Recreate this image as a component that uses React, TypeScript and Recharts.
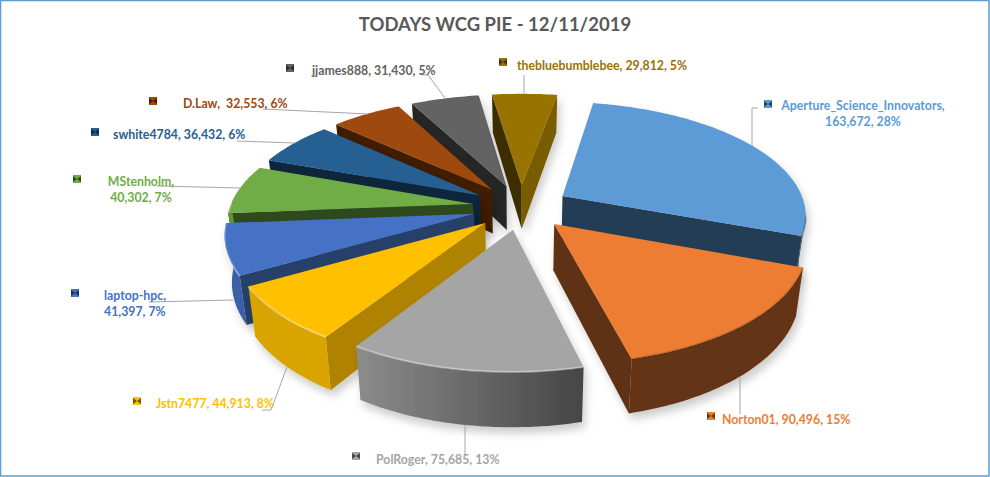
import React from "react";
import { Pie, PieChart } from "recharts";

const names = [
  "Aperture_Science_Innovators",
  "Norton01",
  "PolRoger",
  "Jstn7477",
  "laptop-hpc",
  "MStenholm",
  "swhite4784",
  "D.Law",
  "jjames888",
  "thebluebumblebee",
];
const values = [163672, 90496, 75685, 44913, 41397, 40302, 36432, 32553, 31430, 29812];
const colors = ["#5b9bd5", "#ed7d31", "#a5a5a5", "#ffc000", "#4472c4", "#70ad47", "#255e91", "#9e480e", "#636363", "#997300"];

// back to front, the library paints a pie in data order so each slice gets its own Pie
const paintOrder = [8, 7, 6, 5, 4, 9, 0, 1, 3, 2];

// text, key square and leader line of each slice, same order as names
const labelLayout = [
  { lines: ["Aperture_Science_Innovators,", "163,672, 28%"], x: 863, y: 110, anchor: "middle", key: [764, 100], leader: "758,108 752,108 752,146" },
  { lines: ["Norton01, 90,496, 15%"], x: 722, y: 424, anchor: "start", key: [707, 412], leader: "740,377 740,414" },
  { lines: ["PolRoger, 75,685, 13%"], x: 376, y: 464, anchor: "start", key: [352, 452], leader: "465,425 465,455" },
  { lines: ["Jstn7477, 44,913, 8%"], x: 156, y: 408, anchor: "start", key: [133, 397], leader: "287,367 271,410 262,410" },
  { lines: ["laptop-hpc,", "41,397, 7%"], x: 104, y: 300, anchor: "start", key: [71, 289], leader: "233,300 149,302" },
  { lines: ["MStenholm,", "40,302, 7%"], x: 141, y: 186, anchor: "middle", key: [73, 175], leader: "240,188 157,186" },
  { lines: ["swhite4784, 36,432, 6%"], x: 113, y: 139, anchor: "start", key: [91, 128], leader: "295,143 237,141" },
  { lines: ["D.Law,  32,553, 6%"], x: 183, y: 108, anchor: "start", key: [149, 97], leader: "368,114 263,109" },
  { lines: ["jjames888, 31,430, 5%"], x: 312, y: 75, anchor: "start", key: [286, 64], leader: "445,98 428,75 423,75" },
  { lines: ["thebluebumblebee, 29,812, 5%"], x: 517, y: 70, anchor: "start", key: [499, 58], leader: "524,93 524,75" },
];

const rows = names.map((name, i) => ({ name, value: values[i] }));

const FONT = "Lato, 'Open Sans', sans-serif";
const FIRST_SLICE = 10;
const CX = 521;
const CY = 207;
const RADIUS = 243;
const FLATTEN = 112 / 243; // ground plane squash
const PERSPECTIVE = 0.156;
const EXPLODE = 0.2;
const DEPTH = 45;
const TAPER = 0.025; // walls lean inward going down

const rad = (d: number) => (d * Math.PI) / 180;

function darken(hex: string, f: number) {
  const n = parseInt(hex.slice(1), 16);
  const c = [(n >> 16) & 255, (n >> 8) & 255, n & 255].map((v) => Math.round(v * f));
  return `rgb(${c[0]},${c[1]},${c[2]})`;
}

const norm = (a: number) => ((a % 360) + 360) % 360;

// clock angle of a cut's normal -> shade, faces turned to the right catch more light
function cutShade(normal: number) {
  const t = Math.min(1, Math.max(0, (180 - norm(normal)) / 81));
  return 0.4 + 0.4 * t;
}

const facesViewer = (normal: number) => norm(normal) > 90 && norm(normal) < 270;

function rimShade(theta: number) {
  if (theta >= 212) return 0.85;
  if (theta <= 166) return 0.42;
  return 0.42 + ((theta - 166) / 46) * 0.43;
}

function Wedge(props: any) {
  const { cx, cy, outerRadius, startAngle, endAngle, name } = props;
  const i = names.indexOf(name);
  const color = colors[i];
  const a0 = 90 - startAngle;
  const a1 = 90 - endAngle;
  const mid = (a0 + a1) / 2;
  const ex = Math.sin(rad(mid)) * EXPLODE;
  const ey = -Math.cos(rad(mid)) * EXPLODE;

  const project = (u: number, v: number, h: number) => {
    const s = 1 / (1 - PERSPECTIVE * v);
    return [cx + outerRadius * u * s * (1 - TAPER * h), cy + (outerRadius * FLATTEN * v + DEPTH * h) * s];
  };
  const rimPoint = (a: number, h: number) => project(Math.sin(rad(a)) + ex, -Math.cos(rad(a)) + ey, h);
  const apex = (h: number) => project(ex, ey, h);
  const path = (pts: number[][]) => pts.map((p) => `${p[0].toFixed(1)},${p[1].toFixed(1)}`).join(" ");
  const arc = (from: number, to: number, h: number) => {
    const pts = [];
    const steps = Math.max(2, Math.ceil(Math.abs(to - from)));
    for (let k = 0; k <= steps; k++) pts.push(rimPoint(from + ((to - from) * k) / steps, h));
    return pts;
  };

  const top = [apex(0), ...arc(a0, a1, 0)];
  const startCut = [apex(0), rimPoint(a0, 0), rimPoint(a0, 1), apex(1)];
  const endCut = [apex(0), rimPoint(a1, 0), rimPoint(a1, 1), apex(1)];

  // only the near part of the outer wall can be seen
  const from = Math.max(a0, 100);
  const to = Math.min(a1, 270);
  const hasRim = to > from;
  const gradId = `rim-${i}`;

  return (
    <g filter="url(#sliceShadow)">
      {facesViewer(a0 - 90) && <polygon points={path(startCut)} fill={darken(color, cutShade(a0 - 90))} />}
      {facesViewer(a1 + 90) && <polygon points={path(endCut)} fill={darken(color, cutShade(a1 + 90))} />}
      {hasRim && (
        <>
          <defs>
            <linearGradient id={gradId} x1="0" y1="0" x2="1" y2="0">
              <stop offset="0" stopColor={darken(color, rimShade(to))} />
              <stop offset="1" stopColor={darken(color, rimShade(from))} />
            </linearGradient>
          </defs>
          <polygon points={path([...arc(from, to, 0), ...arc(to, from, 1)])} fill={`url(#${gradId})`} />
        </>
      )}
      <polygon points={path(top)} fill={color} />
      {hasRim && (
        <polyline
          points={path(arc(from, to, 0))}
          fill="none"
          stroke={rimShade((from + to) / 2) > 0.5 ? "#ffffff" : "#000000"}
          strokeOpacity={rimShade((from + to) / 2) > 0.5 ? 0.35 : 0.18}
          strokeWidth={2}
        />
      )}
    </g>
  );
}

function SliceLabel(props: any) {
  const i = names.indexOf(props.name);
  const l = labelLayout[i];
  const color = colors[i];
  const [kx, ky] = l.key;
  return (
    <g>
      <polyline points={l.leader} fill="none" stroke="#a6a6a6" strokeWidth={1} />
      <rect x={kx} y={ky} width={8} height={8} fill={color} />
      <polygon
        points={`${kx},${ky + 1} ${kx + 4},${ky + 4} ${kx + 8},${ky + 1} ${kx + 8},${ky + 7} ${kx + 4},${ky + 4} ${kx},${ky + 7}`}
        fill={darken(color, 0.45)}
      />
      <text x={l.x} y={l.y} textAnchor={l.anchor as any} fill={color} fontFamily={FONT} fontSize={12.3} fontWeight={700} xmlSpace="preserve">
        {l.lines.map((line, k) => (
          <tspan key={k} x={l.x} y={l.y + k * 16}>
            {line}
          </tspan>
        ))}
      </text>
    </g>
  );
}

export default function App() {
  const start = 90 - FIRST_SLICE;
  const common = {
    data: rows,
    dataKey: "value",
    nameKey: "name",
    cx: CX,
    cy: CY,
    outerRadius: RADIUS,
    startAngle: start,
    endAngle: start - 360,
    stroke: "none",
    isAnimationActive: false,
    legendType: "none" as const,
  };
  return (
    <div style={{ position: "fixed", left: 0, top: 0, width: 990, height: 477, background: "#fff", boxSizing: "border-box" }}>
      <PieChart width={990} height={477} margin={{ top: 0, right: 0, bottom: 0, left: 0 }}>
        <defs>
          <filter id="sliceShadow" x="-20%" y="-20%" width="140%" height="140%">
            <feDropShadow dx={3} dy={6} stdDeviation={4} floodColor="#000" floodOpacity={0.2} />
          </filter>
        </defs>
        <rect x={0.5} y={0.5} width={988.5} height={475.5} fill="none" stroke="#5b9bd5" strokeWidth={1.5} />
        <text x={495} y={31} textAnchor="middle" fill="#595959" fontFamily={FONT} fontSize={18.5} fontWeight={700}>
          TODAYS WCG PIE - 12/11/2019
        </text>
        {paintOrder.map((idx) => (
          <Pie
            key={names[idx]}
            {...common}
            label={false}
            labelLine={false}
            shape={(p: any) => (p.name === names[idx] ? <Wedge {...p} /> : <g />)}
          />
        ))}
        <Pie {...common} shape={() => <g />} labelLine={false} label={(p: any) => <SliceLabel {...p} />} />
      </PieChart>
    </div>
  );
}
